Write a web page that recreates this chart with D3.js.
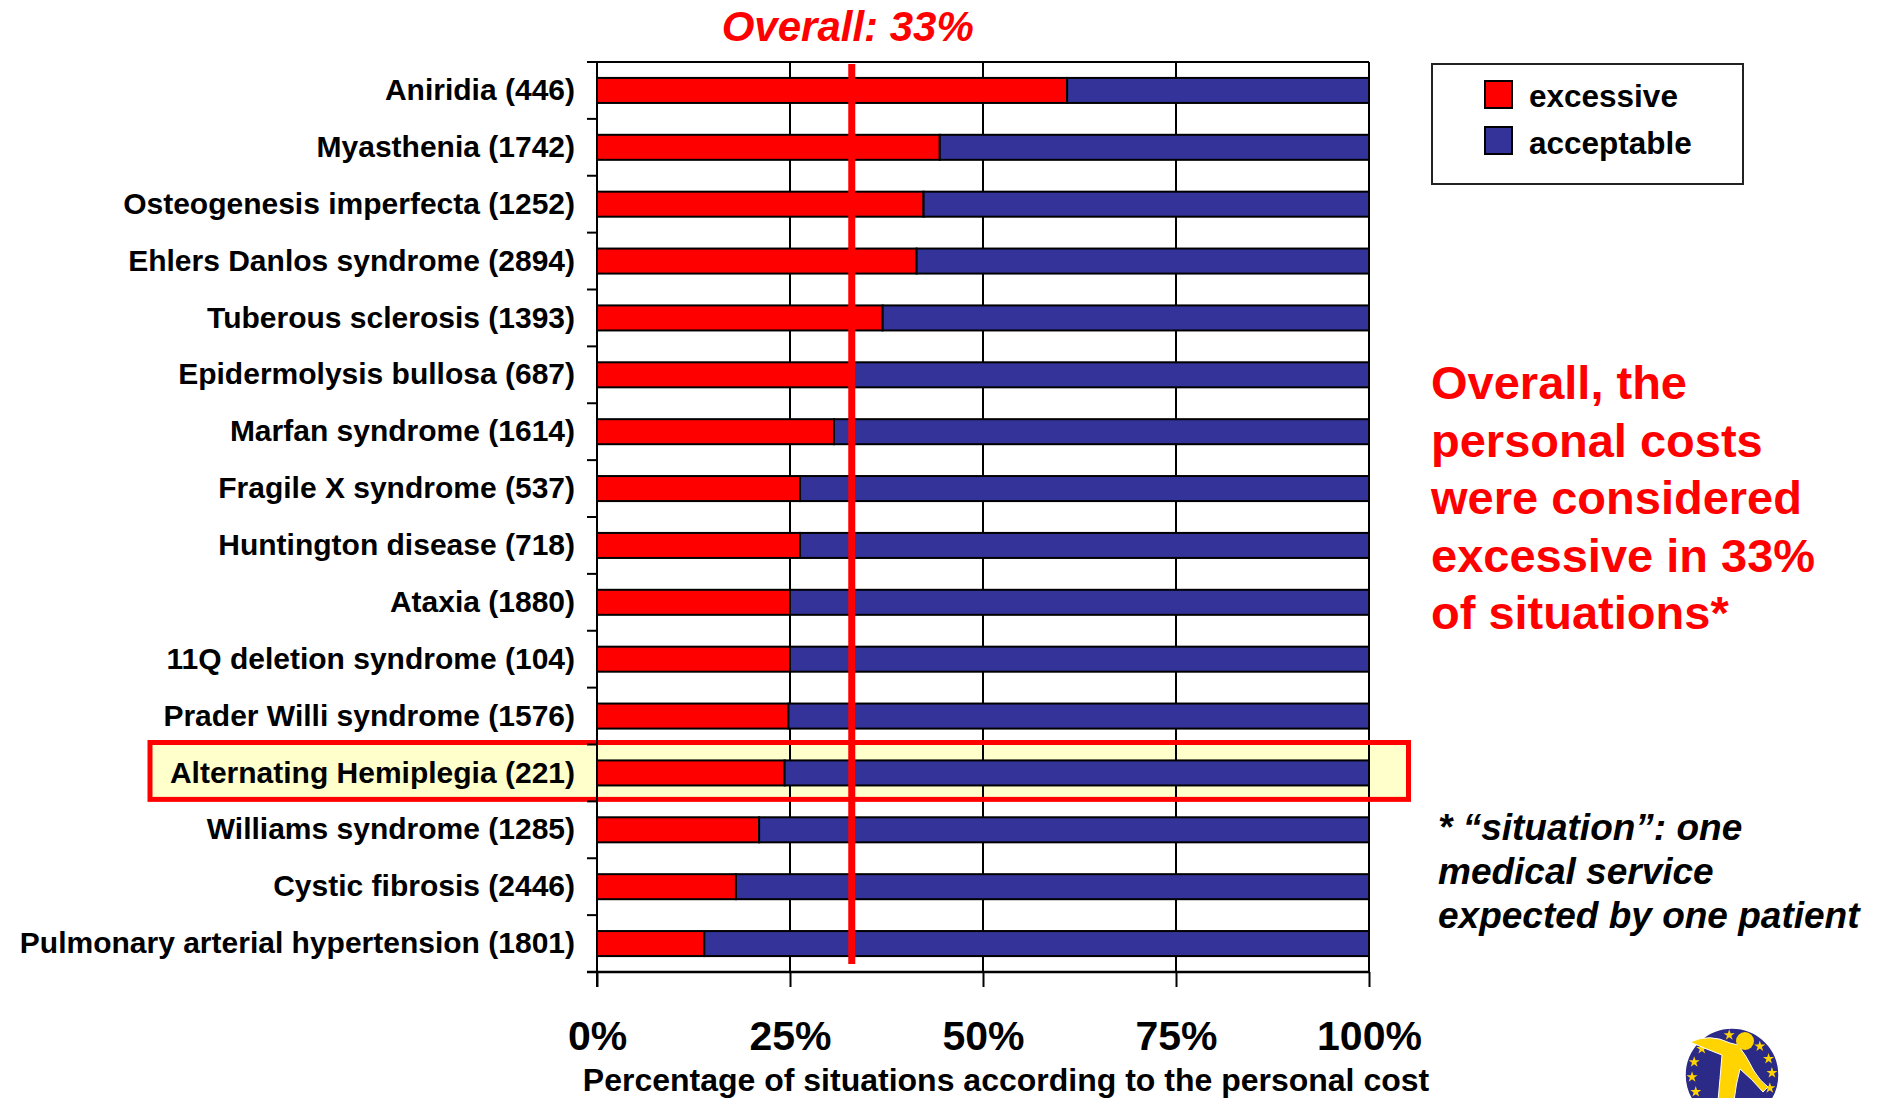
<!DOCTYPE html>
<html>
<head>
<meta charset="utf-8">
<script src="https://cdn.jsdelivr.net/npm/d3@7"></script>
<style>
  body { margin: 0; background: #fff; }
  svg { display: block; }
  text { font-family: "Liberation Sans", Arial, Helvetica, sans-serif; font-weight: bold; }
</style>
</head>
<body>
<svg id="chart" width="1881" height="1098"></svg>
<script>
// Diseases (number of situations reported), top to bottom
const categories = [
  "Aniridia (446)",
  "Myasthenia (1742)",
  "Osteogenesis imperfecta (1252)",
  "Ehlers Danlos syndrome (2894)",
  "Tuberous sclerosis (1393)",
  "Epidermolysis bullosa (687)",
  "Marfan syndrome (1614)",
  "Fragile X syndrome (537)",
  "Huntington disease (718)",
  "Ataxia (1880)",
  "11Q deletion syndrome (104)",
  "Prader Willi syndrome (1576)",
  "Alternating Hemiplegia (221)",
  "Williams syndrome (1285)",
  "Cystic fibrosis (2446)",
  "Pulmonary arterial hypertension (1801)"
];
// Share of situations (%) where the personal cost was judged excessive / acceptable
const excessive  = [60.9, 44.4, 42.3, 41.4, 37.0, 32.9, 30.7, 26.3, 26.3, 25.0, 25.0, 24.8, 24.3, 21.0, 18.0, 13.9];
const acceptable = [39.1, 55.6, 57.7, 58.6, 63.0, 67.1, 69.3, 73.7, 73.7, 75.0, 75.0, 75.2, 75.7, 79.0, 82.0, 86.1];
const seriesNames = ["excessive", "acceptable"];
const overallValue = 33;
const tickValues = [0, 25, 50, 75, 100];
const highlighted = "Alternating Hemiplegia (221)";

const RED = "#ff0000", BLUE = "#333399";
const rows = categories.map((c, i) => ({ name: c, excessive: excessive[i], acceptable: acceptable[i] }));

const svg = d3.select("#chart");
const x = d3.scaleLinear().domain([0, 100]).range([597, 1369]);
const y = d3.scaleBand().domain(categories).range([62, 972]).paddingInner(0.56).paddingOuter(0.28);
const step = y.step();
const top0 = y.range()[0], bottom0 = y.range()[1];
const bandTop = c => y(c) - y.paddingOuter() * step;

// highlight frame fill behind the row
const hiTop = bandTop(highlighted) - 2;
svg.append("rect")
  .attr("x", 150).attr("y", hiTop).attr("width", 1408.5 - 150).attr("height", step)
  .attr("fill", "#ffffcc");

// vertical grid lines (extend below the axis as ticks)
svg.append("g").selectAll("line").data(tickValues.slice(1)).join("line")
  .attr("x1", d => x(d)).attr("x2", d => x(d))
  .attr("y1", top0).attr("y2", bottom0)
  .attr("stroke", "#000").attr("stroke-width", 2);

// highlight frame outline
svg.append("rect")
  .attr("x", 150).attr("y", hiTop).attr("width", 1408.5 - 150).attr("height", step)
  .attr("fill", "none").attr("stroke", RED).attr("stroke-width", 5);

// bottom axis: ticks and percentage labels
const xAxis = svg.append("g")
  .attr("transform", `translate(0,${bottom0})`)
  .call(d3.axisBottom(x).tickValues(tickValues).tickFormat(d => d + "%").tickSize(15).tickPadding(34).tickSizeOuter(0));
xAxis.select(".domain").remove();
xAxis.selectAll(".tick line").attr("stroke", "#000").attr("stroke-width", 2);
xAxis.selectAll(".tick text")
  .attr("fill", "#000").attr("font-size", 41)
  .style("font-family", "'Liberation Sans', Arial, sans-serif").style("font-weight", "bold");

// frame lines: top border, bottom axis line, left axis line
svg.append("line").attr("x1", 587).attr("x2", x(100)).attr("y1", top0).attr("y2", top0)
  .attr("stroke", "#000").attr("stroke-width", 2);
svg.append("line").attr("x1", 587).attr("x2", x(100)).attr("y1", bottom0).attr("y2", bottom0)
  .attr("stroke", "#000").attr("stroke-width", 2.5);
svg.append("line").attr("x1", x(0)).attr("x2", x(0)).attr("y1", top0).attr("y2", bottom0 + 15)
  .attr("stroke", "#000").attr("stroke-width", 2);

// small ticks at the category boundaries
svg.append("g").selectAll("line").data(categories.slice(1)).join("line")
  .attr("x1", 587).attr("x2", x(0))
  .attr("y1", d => bandTop(d)).attr("y2", d => bandTop(d))
  .attr("stroke", "#000").attr("stroke-width", 2);

// category labels
const yAxis = svg.append("g")
  .attr("transform", `translate(${x(0)},0)`)
  .call(d3.axisLeft(y).tickSize(0).tickPadding(22));
yAxis.select(".domain").remove();
yAxis.selectAll(".tick text")
  .attr("fill", "#000").attr("font-size", 30)
  .style("font-family", "'Liberation Sans', Arial, sans-serif").style("font-weight", "bold");

// stacked bars
const stack = d3.stack().keys(seriesNames)(rows);
const colors = { excessive: RED, acceptable: BLUE };
svg.append("g").selectAll("g").data(stack).join("g")
  .attr("fill", d => colors[d.key])
  .selectAll("rect").data(d => d).join("rect")
    .attr("x", d => x(d[0]))
    .attr("width", d => x(d[1]) - x(d[0]))
    .attr("y", d => y(d.data.name))
    .attr("height", y.bandwidth())
    .attr("stroke", "#000").attr("stroke-width", 2);

// overall reference line
svg.append("line")
  .attr("x1", x(overallValue)).attr("x2", x(overallValue))
  .attr("y1", top0 + 2).attr("y2", bottom0 - 8)
  .attr("stroke", RED).attr("stroke-width", 7);
svg.append("text")
  .attr("x", x(overallValue) - 4).attr("y", 41)
  .attr("text-anchor", "middle").attr("font-size", 42).attr("font-style", "italic")
  .attr("fill", RED).text(`Overall: ${overallValue}%`);

// axis title
svg.append("text")
  .attr("x", 1006).attr("y", 1091).attr("text-anchor", "middle")
  .attr("font-size", 32).attr("fill", "#000")
  .text("Percentage of situations according to the personal cost");

// legend
const legend = svg.append("g");
legend.append("rect").attr("x", 1432).attr("y", 64).attr("width", 311).attr("height", 120)
  .attr("fill", "#fff").attr("stroke", "#222").attr("stroke-width", 2);
seriesNames.forEach((k, i) => {
  legend.append("rect").attr("x", 1485).attr("y", 81 + i * 46).attr("width", 27).attr("height", 27)
    .attr("fill", colors[k]).attr("stroke", "#000").attr("stroke-width", 2);
  legend.append("text").attr("x", 1529).attr("y", 107 + i * 47)
    .attr("font-size", 31.5).attr("fill", "#000").text(k);
});

// summary statement
const summary = ["Overall, the", "personal costs", "were considered", `excessive in ${overallValue}%`, "of situations*"];
svg.append("g").selectAll("text").data(summary).join("text")
  .attr("x", 1431).attr("y", (d, i) => 399 + i * 57.5)
  .attr("font-size", 47).attr("fill", RED).text(d => d);

// footnote
const footnote = ["* \u201csituation\u201d: one", "medical service", "expected by one patient"];
svg.append("g").selectAll("text").data(footnote).join("text")
  .attr("x", 1438).attr("y", (d, i) => 840 + i * 44)
  .attr("font-size", 37).attr("font-style", "italic").attr("fill", "#000").text(d => d);

// emblem in the lower right corner
const logo = svg.append("g").attr("transform", "translate(1732,1075)");
logo.append("circle").attr("r", 47).attr("fill", "#2b2a87").attr("stroke", "#fff").attr("stroke-width", 1.5);
const starAngles = [-4, -49, -71, -93, -115, 44, 66, 87, 109];
const starPath = d3.symbol().type(d3.symbolStar).size(38)();
logo.selectAll("path.star").data(starAngles).join("path")
  .attr("class", "star")
  .attr("d", starPath)
  .attr("transform", a => {
    const r = a * Math.PI / 180;
    return `translate(${40 * Math.sin(r)},${-40 * Math.cos(r)})`;
  })
  .attr("fill", "#ffd400");
logo.append("path")
  .attr("d", "M-42,-33 Q-22,-42 -2,-32 L6,-30 Q14,-20 22,-4 Q28,6 36,12 L31,17 Q20,4 8,-6 Q4,8 2,26 L-14,26 Q-12,4 -10,-20 Q-26,-26 -42,-33 Z")
  .attr("fill", "#ffd400").attr("stroke", "#fff").attr("stroke-width", 1);
logo.append("circle").attr("cx", 13).attr("cy", -34).attr("r", 9).attr("fill", "#ffd400");
</script>
</body>
</html>
